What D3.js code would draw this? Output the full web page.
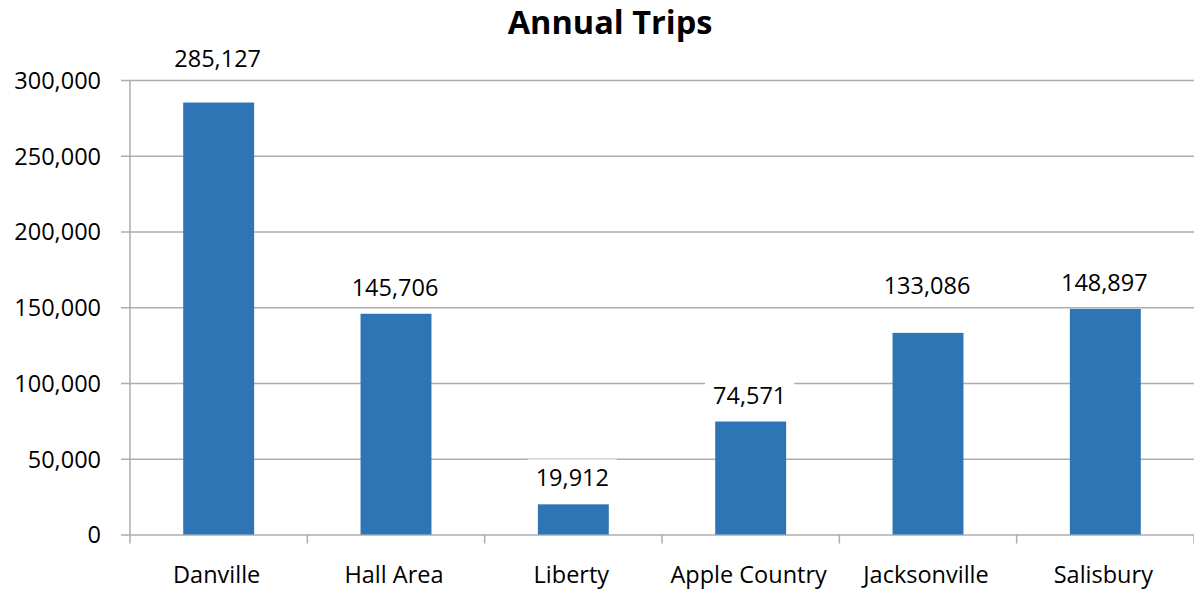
<!DOCTYPE html>
<html>
<head>
<meta charset="utf-8">
<script src="https://cdn.jsdelivr.net/npm/d3@7"></script>
<style>
  html, body { margin: 0; padding: 0; background: #fff; }
  svg { display: block; font-family: "Open Sans", "Noto Sans", sans-serif; }
</style>
</head>
<body>
<svg id="chart" width="1194" height="592"></svg>
<script>
const categories = ["Danville", "Hall Area", "Liberty", "Apple Country", "Jacksonville", "Salisbury"];
const trips = [285127, 145706, 19912, 74571, 133086, 148897];
const yTicks = [0, 50000, 100000, 150000, 200000, 250000, 300000];
const chartTitle = "Annual Trips";

const W = 1194, H = 592;
const margin = { left: 130, right: 0, top: 80, bottom: 57 };
const svg = d3.select("#chart");
const fmt = d3.format(",");
const fontSize = "23.5px";

const x = d3.scaleBand()
  .domain(categories)
  .range([margin.left, W - margin.right])
  .paddingInner(0.6)
  .paddingOuter(0.3);

const xEdge = d3.scaleLinear()
  .domain([0, categories.length])
  .range([margin.left, W - margin.right]);

const y = d3.scaleLinear()
  .domain([0, 300000])
  .range([H - margin.bottom - 0.5, margin.top]);

const gridColor = "#adadad";

// horizontal gridlines with short outward ticks
const yAxis = d3.axisLeft(y)
  .tickValues(yTicks)
  .tickFormat(fmt)
  .tickSize(-(W - margin.left - margin.right) - 9)
  .tickPadding(20);

const gy = svg.append("g")
  .attr("transform", `translate(${margin.left - 9},0)`)
  .call(yAxis);
gy.select(".domain").remove();
gy.selectAll(".tick line")
  .attr("stroke", gridColor)
  .attr("stroke-width", 1.5)
  .attr("x1", 0);
gy.selectAll(".tick text")
  .attr("x", -20)
  .attr("dy", "0.36em")
  .attr("fill", "#000")
  .style("font-size", fontSize)
  .style("font-family", "\"Open Sans\", sans-serif");

// vertical axis line
svg.append("line")
  .attr("x1", margin.left).attr("x2", margin.left)
  .attr("y1", y(300000)).attr("y2", y(0) + 9)
  .attr("stroke", gridColor).attr("stroke-width", 1.5);

// category boundary ticks
svg.append("g").selectAll("line")
  .data(d3.range(1, categories.length + 1))
  .join("line")
  .attr("x1", d => xEdge(d)).attr("x2", d => xEdge(d))
  .attr("y1", y(0)).attr("y2", y(0) + 9)
  .attr("stroke", gridColor).attr("stroke-width", 1.5);

// bars
svg.append("g").selectAll("rect")
  .data(trips)
  .join("rect")
  .attr("x", (d, i) => x(categories[i]))
  .attr("width", x.bandwidth())
  .attr("y", d => y(d))
  .attr("height", d => y(0) - y(d))
  .attr("fill", "#2E75B6");

// category labels
svg.append("g").selectAll("text")
  .data(categories)
  .join("text")
  .attr("x", d => x(d) + x.bandwidth() / 2 - 2)
  .attr("y", 583)
  .attr("text-anchor", "middle")
  .style("font-size", fontSize)
  .text(d => d);

// value labels: sit above the bar; lift above a gridline they would straddle
const labels = svg.append("g");
trips.forEach((v, i) => {
  let base = y(v) - 18;
  const hit = yTicks.map(t => y(t)).find(gy => gy > base - 20 && gy < base + 4);
  if (hit !== undefined) base = hit - 13;
  const cx = x(categories[i]) + x.bandwidth() / 2 - 1;
  const t = labels.append("text")
    .attr("x", cx).attr("y", base)
    .attr("text-anchor", "middle")
    .style("font-size", fontSize)
    .text(fmt(v));
  const bb = t.node().getBBox();
  labels.insert("rect", "text")
    .attr("x", bb.x - 8).attr("y", bb.y - 2)
    .attr("width", bb.width + 16).attr("height", bb.height + 4)
    .attr("fill", "#fff");
});

// title
svg.append("text")
  .attr("x", 610).attr("y", 34)
  .attr("text-anchor", "middle")
  .style("font-size", "32.5px")
  .style("font-weight", "bold")
  .text(chartTitle);
</script>
</body>
</html>
